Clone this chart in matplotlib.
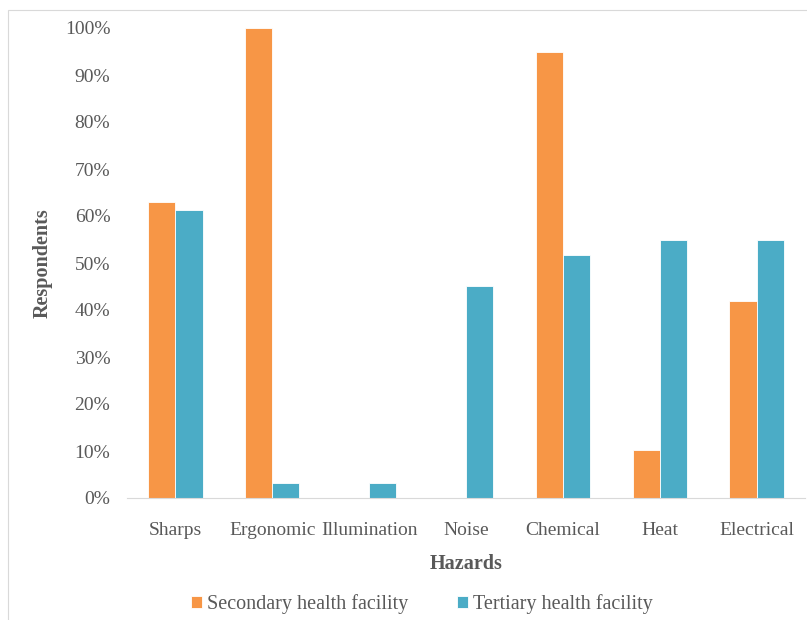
import matplotlib
matplotlib.use("Agg")
import matplotlib.pyplot as plt
import numpy as np
from matplotlib.patches import Rectangle

# Hazard categories and share of respondents (%)
hazards = ["Sharps", "Ergonomic", "Illumination", "Noise", "Chemical", "Heat", "Electrical"]
secondary = [63.0, 100.0, 0.0, 0.0, 94.9, 10.3, 42.0]
tertiary = [61.3, 3.2, 3.2, 45.2, 51.6, 54.8, 54.8]
y_ticks = [0, 10, 20, 30, 40, 50, 60, 70, 80, 90, 100]

orange = "#F79646"
teal = "#4BACC6"
grey = "#595959"

plt.rcParams["font.family"] = ["Liberation Serif", "DejaVu Serif"]

fig = plt.figure(figsize=(8.07, 6.2), dpi=100)
ax = fig.add_axes([127 / 807, 1 - 498 / 620, (805 - 127) / 807, 470 / 620])

# light frame around the chart area
fig.patches.append(Rectangle((8 / 807, -0.1), 1.2, 1 - 10 / 620 + 0.1,
                             transform=fig.transFigure, fill=False,
                             edgecolor="#D9D9D9", linewidth=0.8))

x = np.arange(len(hazards))
w = 0.28
ax.bar(x - w / 2, secondary, w, color=orange, edgecolor="white", linewidth=0.6,
       label="Secondary health facility")
ax.bar(x + w / 2, tertiary, w, color=teal, edgecolor="white", linewidth=0.6,
       label="Tertiary health facility")

ax.set_xlim(-0.5, len(hazards) - 0.5)
ax.set_ylim(0, 100)
ax.set_yticks(y_ticks)
ax.set_yticklabels([f"{t}%" for t in y_ticks])
ax.set_xticks(x)
ax.set_xticklabels(hazards)
ax.tick_params(axis="both", length=0, labelsize=14, colors=grey)
ax.tick_params(axis="x", pad=17)
ax.tick_params(axis="y", pad=12)

for s in ["top", "right", "left"]:
    ax.spines[s].set_visible(False)
ax.spines["bottom"].set_color("#D9D9D9")

ax.set_xlabel("Hazards", fontsize=14.5, fontweight="bold", color=grey, labelpad=11)
ax.set_ylabel("Respondents", fontsize=14.5, fontweight="bold", color=grey, labelpad=9)

leg = fig.legend(loc="center", bbox_to_anchor=(422 / 807, 1 - 604 / 620), ncol=2,
                 frameon=False, fontsize=14.5, handlelength=0.55, handleheight=0.55,
                 handletextpad=0.25, columnspacing=2.4)
for t in leg.get_texts():
    t.set_color(grey)

fig.savefig("out.png", dpi=100)
